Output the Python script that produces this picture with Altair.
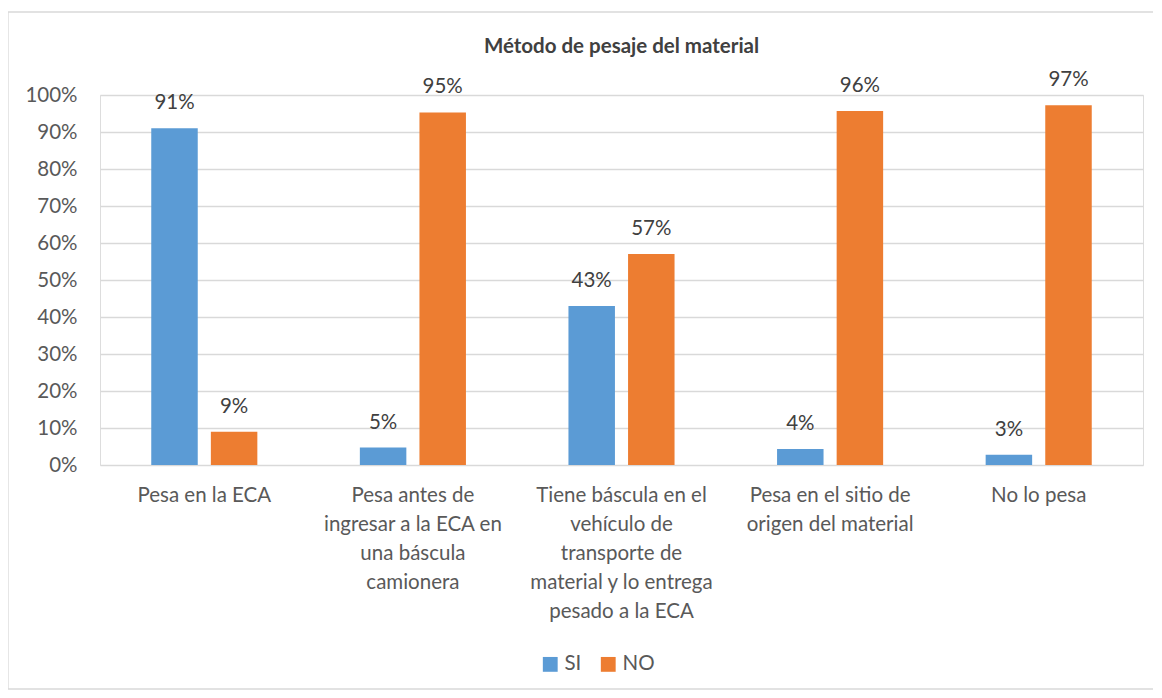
import altair as alt
import pandas as pd

categories = [
    "Pesa en la ECA",
    "Pesa antes de\ningresar a la ECA en\nuna báscula\ncamionera",
    "Tiene báscula en el\nvehículo de\ntransporte de\nmaterial y lo entrega\npesado a la ECA",
    "Pesa en el sitio de\norigen del material",
    "No lo pesa",
]
series = ["SI", "NO"]
si_values = [91.0, 4.7, 43.0, 4.3, 2.8]
no_values = [9.0, 95.3, 57.0, 95.7, 97.2]

rows = []
for c, s, n in zip(categories, si_values, no_values):
    rows.append({"cat": c, "serie": "SI", "val": s / 100})
    rows.append({"cat": c, "serie": "NO", "val": n / 100})
df = pd.DataFrame(rows)

FONT = "Lato"
FS = 20.5
x = alt.X("cat:N", sort=categories, title=None,
          scale=alt.Scale(paddingInner=0, paddingOuter=0),
          axis=alt.Axis(labelExpr="split(datum.label, '\\n')", labelAngle=0,
                        labelFontSize=FS, labelColor="#595959", labelFont=FONT,
                        labelLineHeight=29, labelPadding=20, ticks=False,
                        domain=False, labelBaseline="top", labelLimit=400))
xo = alt.XOffset("serie:N", sort=series,
                 scale=alt.Scale(paddingInner=0.22, paddingOuter=0.86))
y = alt.Y("val:Q", title=None,
          scale=alt.Scale(domain=[0, 1]),
          axis=alt.Axis(format=".0%", values=[i / 10 for i in range(11)],
                        labelFontSize=FS, labelColor="#595959", labelFont=FONT,
                        labelPadding=23, ticks=False, domain=False,
                        gridColor="#D9D9D9", gridWidth=1.3))
color = alt.Color("serie:N", sort=series,
                  scale=alt.Scale(domain=series, range=["#5B9BD5", "#ED7D31"]),
                  legend=alt.Legend(title=None, orient="none", direction="horizontal",
                                    legendX=440, legendY=559, symbolType="square",
                                    symbolSize=220, labelFontSize=FS, labelFont=FONT,
                                    labelColor="#595959", columnPadding=16,
                                    symbolStrokeWidth=0))

base = alt.Chart(df)
bars = base.mark_bar().encode(x=x, xOffset=xo, y=y, color=color)
labels = base.mark_text(dy=-25, fontSize=FS, font=FONT, color="#404040").encode(
    x=x, xOffset=xo, y=y, text=alt.Text("val:Q", format=".0%"))

frame = alt.Chart(pd.DataFrame({"k": [0]})).mark_rect(
    fill=None, stroke="#D9D9D9", strokeWidth=1.3).encode(
    x=alt.value(-92), x2=alt.value(1056), y=alt.value(-83), y2=alt.value(594))

chart = (frame + bars + labels).properties(
    width=1043, height=370,
    title=alt.TitleParams("Método de pesaje del material", fontSize=FS,
                          font=FONT, fontWeight="bold", color="#404040",
                          anchor="middle", offset=-46),
    autosize=alt.AutoSizeParams(type="none"),
    padding={"left": 92, "top": 87, "right": 10, "bottom": 225},
).configure_view(stroke=None).configure(background="white")

chart.save("out.html", embed_options={"renderer": "svg", "actions": False})
